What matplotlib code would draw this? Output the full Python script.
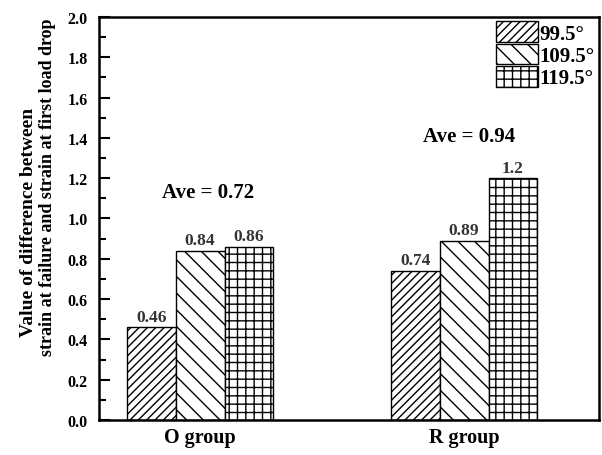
import matplotlib.pyplot as plt
from matplotlib.ticker import MultipleLocator
import numpy as np

plt.rcParams['font.family'] = 'Liberation Serif'
plt.rcParams['font.weight'] = 'bold'
plt.rcParams['hatch.linewidth'] = 1.0

# data
groups = ['O group', 'R group']
angles = ['99.5°', '109.5°', '119.5°']
vals_995 = [0.46, 0.74]
vals_1095 = [0.84, 0.89]
vals_1195 = [0.86, 1.2]
labels_995 = ['0.46', '0.74']
labels_1095 = ['0.84', '0.89']
labels_1195 = ['0.86', '1.2']
averages = ['Ave = 0.72', 'Ave = 0.94']
ave_pos = [(0.03, 1.13), (1.02, 1.41)]

fig = plt.figure(figsize=(6.02, 4.56), dpi=100)
ax = fig.add_axes([0.1645, 0.0768, 0.8306, 0.8838])

x = np.arange(len(groups))
w = 0.185
series = [(vals_995, labels_995, '////'), (vals_1095, labels_1095, '\\\\'), (vals_1195, labels_1195, '++')]
for i, (vals, labs, h) in enumerate(series):
    pos = x + (i - 1) * w
    ax.bar(pos, vals, w, color='white', edgecolor='black', linewidth=1.0,
           hatch=h, label=angles[i])
    for p, v, s in zip(pos, vals, labs):
        ax.text(p, v + 0.012, s, ha='center', va='bottom', fontsize=12.5,
                fontweight='bold', color='#333333')

# averages above each group
for (ax_x, ax_y), s in zip(ave_pos, averages):
    ax.text(ax_x, ax_y, s, ha='center', va='center', fontsize=15, fontweight='bold')

ax.set_xlim(-0.383, 1.511)
ax.set_ylim(0, 2.0)
ax.set_xticks(x)
ax.set_xticklabels(groups, fontsize=14.5, fontweight='bold')
ax.tick_params(axis='x', length=0, pad=5)
ax.yaxis.set_major_locator(MultipleLocator(0.2))
ax.yaxis.set_minor_locator(MultipleLocator(0.1))
ax.yaxis.set_major_formatter(plt.FormatStrFormatter('%.1f'))
ax.tick_params(axis='y', which='major', direction='in', length=8, width=1.5,
               labelsize=11.5, pad=8)
ax.tick_params(axis='y', which='minor', direction='in', length=5, width=1.5)
for sp in ax.spines.values():
    sp.set_linewidth(1.8)

# two-line y label, first line a bit larger as in the original
fig.text(0.047, 0.513, 'Value of difference between', rotation=90,
         ha='center', va='center', fontsize=14, fontweight='bold')
fig.text(0.079, 0.59, 'strain at failure and strain at first load drop', rotation=90,
         ha='center', va='center', fontsize=13, fontweight='bold')

ax.legend(loc='upper right', bbox_to_anchor=(1.0, 1.0), frameon=False, fontsize=15,
          handlelength=2.0, handleheight=1.15, handletextpad=0.1, labelspacing=0.0,
          borderaxespad=0.0, borderpad=0.2)

fig.savefig('out.png', dpi=100)
